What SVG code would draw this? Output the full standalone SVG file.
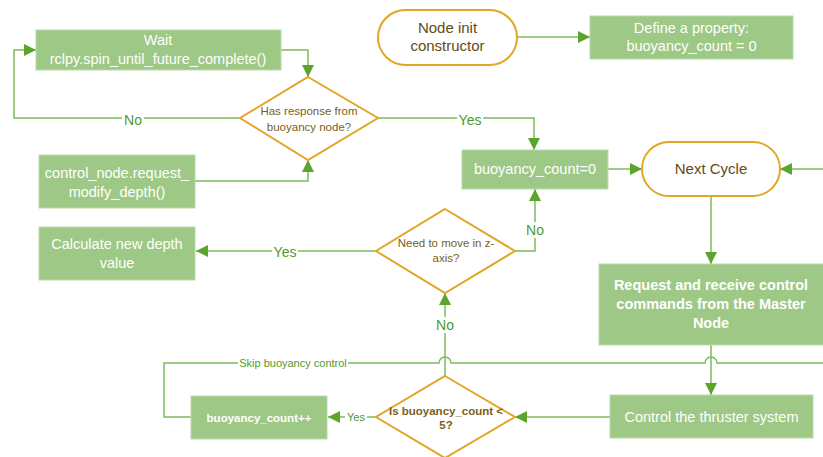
<svg xmlns="http://www.w3.org/2000/svg" width="823" height="457" viewBox="0 0 823 457">
  <style>
    .box { fill: #9dc886; stroke: #b9dca8; stroke-width: 1; }
    .term { fill: #ffffff; stroke: #e1a624; stroke-width: 2; }
    .dec { fill: #ffffff; stroke: #e1a624; stroke-width: 2; }
    .wt { fill: #ffffff; font-family: "Liberation Sans", Arial, sans-serif; font-size: 14.5px; text-anchor: middle; }
    .bt { fill: #634c14; font-family: "Liberation Sans", Arial, sans-serif; font-size: 15px; text-anchor: middle; }
    .dt { fill: #7a6020; font-family: "Liberation Sans", Arial, sans-serif; font-size: 11.5px; text-anchor: middle; }
    .conn { fill: none; stroke: #7cbb5e; stroke-width: 1.5; }
    .lblbg { fill: #ffffff; }
    .lbl { fill: #4f9a2f; font-family: "Liberation Sans", Arial, sans-serif; font-size: 14px; text-anchor: middle; }
    .lbls { font-size: 11px; }
  </style>
  <defs>
    <marker id="arrow" markerUnits="userSpaceOnUse" markerWidth="12" markerHeight="12" viewBox="0 0 10 10" refX="10" refY="5" orient="auto">
      <path d="M0,0 L10,5 L0,10 z" fill="#5ba52f"/>
    </marker>
  </defs>

  <rect width="823" height="457" fill="#ffffff"/>

  <!-- connectors -->
  <g id="connectors">
    <path class="conn" d="M281,50 H308 V77" marker-end="url(#arrow)"/>
    <path class="conn" d="M240,118 H14 V50 H36" marker-end="url(#arrow)"/>
    <path class="conn" d="M195,181 H308 V160" marker-end="url(#arrow)"/>
    <path class="conn" d="M378,118 H534 V150" marker-end="url(#arrow)"/>
    <path class="conn" d="M517,37 H590" marker-end="url(#arrow)"/>
    <path class="conn" d="M608,169 H642" marker-end="url(#arrow)"/>
    <path class="conn" d="M823,169 H780" marker-end="url(#arrow)"/>
    <path class="conn" d="M711,196 V264" marker-end="url(#arrow)"/>
    <path class="conn" d="M711,345 V395" marker-end="url(#arrow)"/>
    <path class="conn" d="M610,417 H515" marker-end="url(#arrow)"/>
    <path class="conn" d="M376,417 H328" marker-end="url(#arrow)"/>
    <path class="conn" d="M445,376 V293" marker-end="url(#arrow)"/>
    <path class="conn" d="M515,251 H535 V189" marker-end="url(#arrow)"/>
    <path class="conn" d="M376,251 H196" marker-end="url(#arrow)"/>
    <path class="conn" d="M191,417 H164 V363 H439 A6,6 0 0 1 451,363 H705 A6,6 0 0 1 717,363 H823"/>

    <!-- connector labels, each on a white patch that breaks the line -->
    <rect class="lblbg" x="122" y="111" width="22" height="16"/>
    <text class="lbl" x="133" y="125">No</text>
    <rect class="lblbg" x="457" y="111" width="26" height="16"/>
    <text class="lbl" x="470" y="125">Yes</text>
    <rect class="lblbg" x="524" y="222" width="22" height="16"/>
    <text class="lbl" x="535" y="235">No</text>
    <rect class="lblbg" x="272" y="244" width="26" height="16"/>
    <text class="lbl" x="285" y="257">Yes</text>
    <rect class="lblbg" x="434" y="317" width="22" height="16"/>
    <text class="lbl" x="445" y="330">No</text>
    <rect class="lblbg" x="238" y="357" width="110" height="13"/>
    <text class="lbl lbls" x="293" y="367">Skip buoyancy control</text>
    <rect class="lblbg" x="345" y="411" width="22" height="13"/>
    <text class="lbl lbls" x="356" y="421">Yes</text>
  </g>

  <!-- nodes -->
  <g id="wait">
    <rect class="box" x="36" y="30" width="245" height="40"/>
    <text class="wt" x="158" y="45">Wait</text>
    <text class="wt" x="158" y="64">rclpy.spin_until_future_complete()</text>
  </g>

  <g id="has-response">
    <polygon class="dec" points="308,77 378,118 308,160 240,118"/>
    <text class="dt" x="309" y="115">Has response from</text>
    <text class="dt" x="309" y="131">buoyancy node?</text>
  </g>

  <g id="request-modify">
    <rect class="box" x="39" y="155" width="156" height="53"/>
    <text class="wt" x="117" y="178">control_node.request_</text>
    <text class="wt" x="117" y="197">modify_depth()</text>
  </g>

  <g id="node-init">
    <rect class="term" x="378" y="10" width="139" height="55" rx="27.5"/>
    <text class="bt" x="447.5" y="33">Node init</text>
    <text class="bt" x="447.5" y="51">constructor</text>
  </g>

  <g id="define-property">
    <rect class="box" x="590" y="16" width="203" height="43"/>
    <text class="wt" x="691.5" y="33">Define a property:</text>
    <text class="wt" x="691.5" y="51">buoyancy_count = 0</text>
  </g>

  <g id="reset-count">
    <rect class="box" x="462" y="150" width="146" height="39"/>
    <text class="wt" x="535" y="174">buoyancy_count=0</text>
  </g>

  <g id="next-cycle">
    <rect class="term" x="642" y="142" width="138" height="54" rx="27"/>
    <text class="bt" x="711" y="174">Next Cycle</text>
  </g>

  <g id="calculate-depth">
    <rect class="box" x="39" y="227" width="156" height="53"/>
    <text class="wt" x="117" y="249">Calculate new depth</text>
    <text class="wt" x="117" y="268">value</text>
  </g>

  <g id="need-move">
    <polygon class="dec" points="445,209 515,251 445,293 376,251"/>
    <text class="dt" x="446" y="247">Need to move in z-</text>
    <text class="dt" x="446" y="262">axis?</text>
  </g>

  <g id="request-commands">
    <rect class="box" x="599" y="264" width="226" height="81"/>
    <text class="wt" x="711" y="290" font-weight="bold">Request and receive control</text>
    <text class="wt" x="711" y="309" font-weight="bold">commands from the Master</text>
    <text class="wt" x="711" y="328" font-weight="bold">Node</text>
  </g>

  <g id="control-thrusters">
    <rect class="box" x="610" y="395" width="203" height="43"/>
    <text class="wt" x="711.5" y="422">Control the thruster system</text>
  </g>

  <g id="count-check">
    <polygon class="dec" points="445,376 515,417 445,458 376,417"/>
    <text class="dt" x="446" y="415" font-weight="bold" fill="#6b5316">Is buoyancy_count &lt;</text>
    <text class="dt" x="446" y="429" font-weight="bold" fill="#6b5316">5?</text>
  </g>

  <g id="increment-count">
    <rect class="box" x="191" y="396" width="136" height="43"/>
    <text class="wt" x="259" y="422" font-weight="bold" style="font-size:11.5px">buoyancy_count++</text>
  </g>
</svg>
